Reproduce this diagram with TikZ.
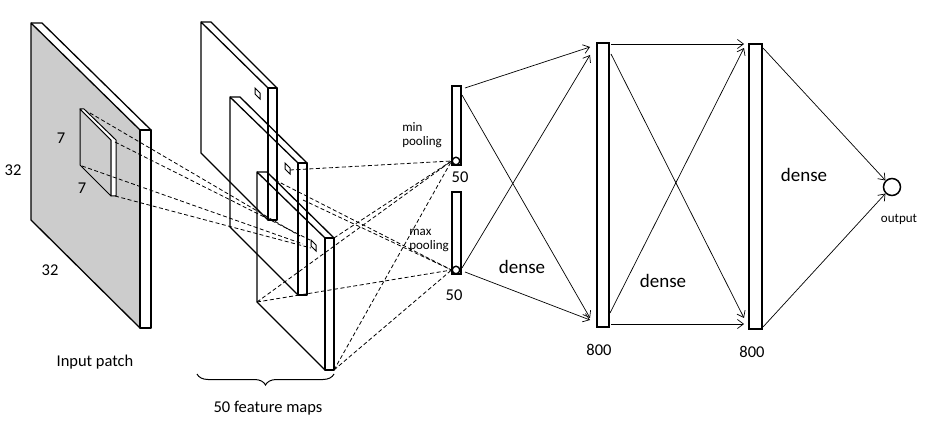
\documentclass[tikz,border=0pt]{standalone}
\usepackage{fontspec}
\setmainfont{Carlito}
\usetikzlibrary{decorations.pathreplacing,arrows.meta}
\begin{document}
\begin{tikzpicture}[x=1pt,y=-1pt,
  slab/.style={draw=black,line width=1.3pt,line join=round},
  bar/.style={draw=black,line width=1.6pt,fill=white},
  dl/.style={dash pattern=on 4pt off 2.5pt,line width=0.8pt},
  ar/.style={-{Straight Barb[length=6pt,width=9pt]},line width=0.7pt},
  lbl/.style={font=\fontsize{16.5}{16.5}\selectfont,inner sep=0pt},
  sm/.style={font=\fontsize{13}{14}\selectfont,inner sep=0pt}]
\useasboundingbox (0,0) rectangle (932,438);
% input slab
\fill[gray!40] (31,23) -- (140,130) -- (140,328) -- (31,220) -- cycle;
\draw[slab] (31,23) -- (140,130) -- (140,328) -- (31,220) -- cycle;
\draw[slab] (31,23) -- (42,23) -- (151,130) -- (140,130);
\draw[slab,fill=white] (140,130) rectangle (151,328);
% patch
\draw[slab,line width=1pt] (80,109) -- (111,140) -- (111,196) -- (80,165) -- cycle;
\draw[slab,line width=1pt,fill=white] (80,109) -- (84,109) -- (116,140) -- (116,196) -- (111,196) -- (111,140) -- cycle;
% feature maps
\foreach \a/\b/\c/\d/\e/\f in {201/22/153/268/88/220, 230/97/227/298/163/295, 257/172/302/325/238/370}{
  \draw[slab] (\a,\b) -- (\d,\e) -- (\d,\f) -- (\a,\c) -- cycle;
  \draw[slab] (\a,\b) -- (\a+10,\b) -- (\d+9,\e) -- (\d,\e);
  \draw[slab] (\d,\e) rectangle (\d+9,\f);
}
\foreach \x/\y in {257/93, 287/168, 313/245}{
  \draw[line width=1pt] (\x-2,\y-5) -- (\x+3,\y) -- (\x+3,\y+6) -- (\x-2,\y+1) -- cycle;
}
% pooling bars
\draw[bar] (452,86) rectangle (461,165);
\draw[bar] (452,192) rectangle (461,274);
\node[circle,draw,line width=1.4pt,fill=white,minimum size=7.5pt,inner sep=0pt] (pmin) at (456,161) {};
\node[circle,draw,line width=1.4pt,fill=white,minimum size=7.5pt,inner sep=0pt] (pmax) at (456,270) {};
% dashed lines
\coordinate (t3) at (334,238); \coordinate (bl3) at (257,302); \coordinate (br3) at (334,370);
\coordinate (s2) at (290,170); \coordinate (s2b) at (275,180); \coordinate (s3) at (303,200);
\draw[dl] (90,113) -- (300,236);
\draw[dl] (115,142) -- (310,240);
\draw[dl] (82,166) -- (303,244);
\draw[dl] (115,196) -- (311,248);
\draw[dl] (s2) -- (pmin.west);
\draw[dl] (s2b) -- (pmax.west);
\draw[dl] (t3) -- (pmin.west);
\draw[dl] (bl3) -- (pmin.west);
\draw[dl] (br3) -- (pmin.west);
\draw[dl] (bl3) -- (pmax.west);
\draw[dl] (br3) -- (pmax.west);
\draw[dl] (s3) -- (pmax.west);
% dense bars
\draw[bar] (597,43) rectangle (609,327);
\draw[bar] (749,44) rectangle (762,329);
\node[circle,draw,line width=1.5pt,minimum size=17pt,inner sep=0pt] (out) at (892,187) {};
\coordinate (a1) at (465,88); \coordinate (a2) at (462,95);
\coordinate (a3) at (462,268); \coordinate (a4) at (465,272);
\draw[ar] (a1) -- (590,47);
\draw[ar] (a2) -- (590,318);
\draw[ar] (a3) -- (590,55);
\draw[ar] (a4) -- (590,320);
\draw[ar] (611,44) -- (744,44);
\draw[ar] (611,54) -- (744,318);
\draw[ar] (610,313) -- (744,48);
\draw[ar] (611,324) -- (744,324);
\draw[ar] (763,48) -- (out.north west);
\draw[ar] (763,327) -- (out.south west);
% brace
\draw[decorate,decoration={brace,mirror,amplitude=11pt},line width=1pt] (197,374) -- (334,374);
% labels
\node[lbl] at (13,170) {32};
\node[lbl] at (50,270) {32};
\node[lbl] at (61,138) {7};
\node[lbl] at (82,188) {7};
\node[lbl] at (95,362) {Input patch};
\node[lbl] at (268,408) {50 feature maps};
\node[sm,align=left] at (422,135) {min\\pooling};
\node[sm,align=left] at (429,240) {max\\pooling};
\node[lbl] at (460,177) {50};
\node[lbl] at (454,295) {50};
\node[lbl,font=\fontsize{19}{19}\selectfont] at (522,267) {dense};
\node[lbl,font=\fontsize{19}{19}\selectfont] at (663,281) {dense};
\node[lbl,font=\fontsize{19}{19}\selectfont] at (804,175) {dense};
\node[sm] at (899,219) {output};
\node[lbl] at (599,350) {800};
\node[lbl] at (752,352) {800};
\end{tikzpicture}
\end{document}
